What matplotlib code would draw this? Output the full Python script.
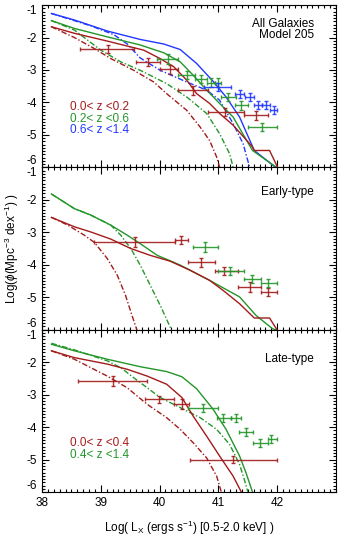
import matplotlib
matplotlib.use("Agg")
import matplotlib.pyplot as plt
from matplotlib.ticker import MultipleLocator
import numpy as np

plt.rcParams['font.family'] = ['Liberation Sans', 'DejaVu Sans']
plt.rcParams['axes.unicode_minus'] = False
plt.rcParams['mathtext.fontset'] = 'custom'
plt.rcParams['mathtext.rm'] = 'Liberation Sans'
plt.rcParams['mathtext.it'] = 'Liberation Sans:italic'

RED = '#A31B1B'
GREEN = '#23962A'
BLUE = '#2238FF'

# ---------------- Panel 1: All galaxies ----------------
p1_blue_solid_x = [38.16, 38.55, 39.11, 39.67, 40.07, 40.35, 40.63, 40.91, 41.13, 41.36, 41.61, 42.0]
p1_blue_solid_y = [-1.26, -1.46, -1.80, -2.06, -2.20, -2.37, -2.80, -3.35, -3.83, -4.45, -5.48, -6.04]
p1_blue_dd_x = [38.16, 38.83, 39.22, 39.45, 39.67, 40.01, 40.46, 40.80, 41.02, 41.25, 41.42, 41.53]
p1_blue_dd_y = [-1.26, -1.64, -1.91, -2.20, -2.63, -3.01, -3.37, -3.62, -3.93, -4.65, -5.27, -5.99]
p1_green_solid_x = [38.16, 38.55, 39.11, 39.67, 40.07, 40.35, 40.57, 40.80, 41.02, 41.25, 41.58, 41.98]
p1_green_solid_y = [-1.48, -1.72, -1.98, -2.23, -2.47, -2.75, -3.16, -3.62, -4.03, -4.45, -5.48, -5.99]
p1_green_dd_x = [38.16, 38.55, 39.00, 39.34, 39.67, 40.12, 40.46, 40.80, 41.02, 41.19, 41.25]
p1_green_dd_y = [-1.48, -1.77, -2.39, -2.75, -3.01, -3.42, -3.83, -4.34, -4.96, -5.58, -5.99]
p1_red_solid_x = [38.16, 38.55, 39.11, 39.73, 40.01, 40.24, 40.46, 40.63, 40.85, 41.02, 41.25, 41.58, 41.61, 41.87, 42.01]
p1_red_solid_y = [-1.67, -1.87, -2.11, -2.39, -2.65, -2.90, -3.31, -3.73, -4.03, -4.34, -4.70, -5.37, -5.48, -5.48, -6.01]
p1_red_dd_x = [38.16, 38.55, 38.89, 39.17, 39.56, 39.90, 40.12, 40.46, 40.69, 40.85, 40.97, 41.02]
p1_red_dd_y = [-1.67, -2.00, -2.34, -2.65, -3.01, -3.37, -3.73, -4.24, -4.76, -5.17, -5.68, -5.99]

p1_red_pts_x = [39.13, 39.81, 40.18, 40.56, 41.12, 41.64]
p1_red_pts_lo = [38.65, 39.60, 40.00, 40.32, 40.83, 41.43]
p1_red_pts_hi = [39.57, 40.01, 40.32, 40.83, 41.43, 41.84]
p1_red_pts_y = [-2.36, -2.75, -2.98, -3.62, -4.29, -4.40]
p1_red_pts_err = [0.13, 0.13, 0.13, 0.14, 0.13, 0.14]

p1_green_pts_x = [40.15, 40.47, 40.70, 40.87, 40.99, 41.17, 41.38, 41.74]
p1_green_pts_lo = [39.96, 40.32, 40.61, 40.80, 40.94, 41.05, 41.29, 41.50]
p1_green_pts_hi = [40.32, 40.61, 40.80, 40.94, 41.05, 41.30, 41.50, 41.99]
p1_green_pts_y = [-2.67, -3.16, -3.28, -3.39, -3.39, -3.83, -4.09, -4.76]
p1_green_pts_err = [0.15, 0.13, 0.13, 0.13, 0.13, 0.13, 0.13, 0.13]

p1_blue_pts_x = [40.99, 41.37, 41.53, 41.67, 41.81, 41.95]
p1_blue_pts_lo = [40.75, 41.29, 41.46, 41.60, 41.74, 41.88]
p1_blue_pts_hi = [41.22, 41.44, 41.60, 41.74, 41.88, 42.00]
p1_blue_pts_y = [-3.52, -3.73, -3.83, -4.09, -4.07, -4.24]
p1_blue_pts_err = [0.12, 0.12, 0.12, 0.12, 0.12, 0.12]

# ---------------- Panel 2: Early-type ----------------
p2_green_solid_x = [38.16, 38.55, 38.83, 39.17, 39.45, 39.67, 39.96, 40.35, 40.85, 41.36, 41.64, 41.92, 42.0]
p2_green_solid_y = [-1.82, -2.27, -2.47, -2.78, -3.09, -3.35, -3.71, -4.01, -4.48, -4.99, -5.56, -5.97, -6.02]
p2_green_dd_x = [38.16, 38.55, 38.83, 39.17, 39.34, 39.51, 39.67, 39.84, 40.01, 40.21]
p2_green_dd_y = [-1.82, -2.27, -2.47, -2.78, -3.09, -3.50, -4.01, -4.63, -5.25, -6.04]
p2_red_solid_x = [38.16, 38.55, 38.83, 39.17, 39.51, 39.84, 40.18, 40.52, 40.85, 41.08, 41.36, 41.61, 41.87, 42.01]
p2_red_solid_y = [-2.54, -2.83, -2.99, -3.21, -3.50, -3.71, -3.89, -4.17, -4.48, -4.79, -5.20, -5.64, -5.64, -6.04]
p2_red_dd_x = [38.16, 38.44, 38.72, 38.89, 39.11, 39.28, 39.42, 39.53, 39.62]
p2_red_dd_y = [-2.54, -2.78, -3.09, -3.31, -3.81, -4.32, -4.94, -5.56, -6.04]

p2_red_pts_x = [39.58, 40.37, 40.71, 41.10, 41.53, 41.85]
p2_red_pts_lo = [38.88, 40.26, 40.48, 40.94, 41.33, 41.72]
p2_red_pts_hi = [40.26, 40.49, 40.94, 41.33, 41.72, 41.99]
p2_red_pts_y = [-3.29, -3.24, -3.93, -4.20, -4.68, -4.84]
p2_red_pts_err = [0.15, 0.13, 0.15, 0.13, 0.15, 0.12]

p2_green_pts_x = [40.78, 41.20, 41.57, 41.84]
p2_green_pts_lo = [40.57, 40.99, 41.43, 41.72]
p2_green_pts_hi = [40.99, 41.44, 41.72, 41.99]
p2_green_pts_y = [-3.45, -4.19, -4.43, -4.56]
p2_green_pts_err = [0.15, 0.13, 0.13, 0.12]

# ---------------- Panel 3: Late-type ----------------
p3_green_solid_x = [38.16, 38.55, 39.11, 39.67, 40.12, 40.38, 40.63, 40.91, 41.13, 41.36, 41.47, 41.58]
p3_green_solid_y = [-1.45, -1.65, -1.91, -2.14, -2.29, -2.45, -2.82, -3.45, -4.07, -4.89, -5.41, -6.00]
p3_green_dd_x = [38.16, 38.55, 38.83, 39.11, 39.34, 39.56, 39.79, 40.01, 40.35, 40.69, 40.97, 41.19, 41.36, 41.44, 41.50]
p3_green_dd_y = [-1.42, -1.62, -1.79, -1.96, -2.17, -2.48, -2.79, -3.09, -3.40, -3.71, -4.07, -4.53, -5.15, -5.61, -5.99]
p3_red_solid_x = [38.16, 38.55, 39.11, 39.45, 39.79, 40.12, 40.38, 40.57, 40.80, 41.02, 41.25, 41.39]
p3_red_solid_y = [-1.65, -1.86, -2.06, -2.22, -2.43, -2.68, -3.09, -3.66, -4.28, -4.89, -5.51, -6.00]
p3_red_dd_x = [38.16, 38.55, 38.83, 39.11, 39.45, 39.79, 40.12, 40.35, 40.57, 40.80, 40.97, 41.05]
p3_red_dd_y = [-1.65, -1.91, -2.17, -2.43, -2.79, -3.30, -3.71, -4.07, -4.48, -4.95, -5.51, -6.00]

p3_red_pts_x = [39.20, 39.99, 40.38, 41.25]
p3_red_pts_lo = [38.62, 39.76, 40.24, 40.52]
p3_red_pts_hi = [39.79, 40.24, 40.50, 42.00]
p3_red_pts_y = [-2.58, -3.15, -3.30, -5.00]
p3_red_pts_err = [0.16, 0.12, 0.15, 0.12]

p3_green_pts_x = [40.74, 41.08, 41.30, 41.47, 41.70, 41.90]
p3_green_pts_lo = [40.49, 40.97, 41.22, 41.35, 41.58, 41.84]
p3_green_pts_hi = [41.00, 41.22, 41.39, 41.58, 41.84, 41.99]
p3_green_pts_y = [-3.40, -3.71, -3.71, -4.15, -4.48, -4.36]
p3_green_pts_err = [0.12, 0.12, 0.12, 0.12, 0.12, 0.12]

x_ticks = [38, 39, 40, 41, 42]
y_ticks = [-6, -5, -4, -3, -2, -1]

fig, axes = plt.subplots(3, 1, figsize=(3.5, 5.6), dpi=100, sharex=True)
fig.subplots_adjust(left=0.12, right=0.96, top=0.991, bottom=0.1214, hspace=0)

LW = 1.0
DD = (0, (4, 1.5, 1, 1.5))


def pts(ax, x, lo, hi, y, err, color):
    x = np.array(x); lo = np.array(lo); hi = np.array(hi)
    ax.errorbar(x, y, xerr=[x - lo, hi - x], yerr=err, fmt='none',
                ecolor=color, elinewidth=1.0, capsize=1.3, capthick=1.0, alpha=0.9)


ax = axes[0]
ax.plot(p1_blue_solid_x, p1_blue_solid_y, color=BLUE, lw=LW)
ax.plot(p1_blue_dd_x, p1_blue_dd_y, color=BLUE, lw=LW, ls=DD)
ax.plot(p1_green_solid_x, p1_green_solid_y, color=GREEN, lw=LW)
ax.plot(p1_green_dd_x, p1_green_dd_y, color=GREEN, lw=LW, ls=DD)
ax.plot(p1_red_solid_x, p1_red_solid_y, color=RED, lw=LW)
ax.plot(p1_red_dd_x, p1_red_dd_y, color=RED, lw=LW, ls=DD)
pts(ax, p1_red_pts_x, p1_red_pts_lo, p1_red_pts_hi, p1_red_pts_y, p1_red_pts_err, RED)
pts(ax, p1_green_pts_x, p1_green_pts_lo, p1_green_pts_hi, p1_green_pts_y, p1_green_pts_err, GREEN)
pts(ax, p1_blue_pts_x, p1_blue_pts_lo, p1_blue_pts_hi, p1_blue_pts_y, p1_blue_pts_err, BLUE)
ax.text(0.925, 0.883, 'All Galaxies', transform=ax.transAxes, ha='right', va='center', fontsize=8.5)
ax.text(0.925, 0.815, 'Model 205', transform=ax.transAxes, ha='right', va='center', fontsize=8.5)
ax.text(0.095, 0.372, '0.0< z <0.2', transform=ax.transAxes, color=RED, va='center', fontsize=8.5)
ax.text(0.095, 0.301, '0.2< z <0.6', transform=ax.transAxes, color=GREEN, va='center', fontsize=8.5)
ax.text(0.095, 0.228, '0.6< z <1.4', transform=ax.transAxes, color=BLUE, va='center', fontsize=8.5)

ax = axes[1]
ax.plot(p2_green_solid_x, p2_green_solid_y, color=GREEN, lw=LW)
ax.plot(p2_green_dd_x, p2_green_dd_y, color=GREEN, lw=LW, ls=DD)
ax.plot(p2_red_solid_x, p2_red_solid_y, color=RED, lw=LW)
ax.plot(p2_red_dd_x, p2_red_dd_y, color=RED, lw=LW, ls=DD)
pts(ax, p2_red_pts_x, p2_red_pts_lo, p2_red_pts_hi, p2_red_pts_y, p2_red_pts_err, RED)
pts(ax, p2_green_pts_x, p2_green_pts_lo, p2_green_pts_hi, p2_green_pts_y, p2_green_pts_err, GREEN)
ax.text(0.925, 0.847, 'Early-type', transform=ax.transAxes, ha='right', va='center', fontsize=8.5)

ax = axes[2]
ax.plot(p3_green_solid_x, p3_green_solid_y, color=GREEN, lw=LW)
ax.plot(p3_green_dd_x, p3_green_dd_y, color=GREEN, lw=LW, ls=DD)
ax.plot(p3_red_solid_x, p3_red_solid_y, color=RED, lw=LW)
ax.plot(p3_red_dd_x, p3_red_dd_y, color=RED, lw=LW, ls=DD)
pts(ax, p3_red_pts_x, p3_red_pts_lo, p3_red_pts_hi, p3_red_pts_y, p3_red_pts_err, RED)
pts(ax, p3_green_pts_x, p3_green_pts_lo, p3_green_pts_hi, p3_green_pts_y, p3_green_pts_err, GREEN)
ax.text(0.925, 0.82, 'Late-type', transform=ax.transAxes, ha='right', va='center', fontsize=8.5)
ax.text(0.095, 0.30, '0.0< z <0.4', transform=ax.transAxes, color=RED, va='center', fontsize=8.5)
ax.text(0.095, 0.23, '0.4< z <1.4', transform=ax.transAxes, color=GREEN, va='center', fontsize=8.5)

for ax in axes:
    ax.set_xlim(38, 43)
    ax.set_ylim(-6, -1)
    ax.set_xticks(x_ticks)
    ax.set_yticks(y_ticks)
    ax.xaxis.set_minor_locator(MultipleLocator(0.1))
    ax.yaxis.set_minor_locator(MultipleLocator(0.1))
    ax.tick_params(which='both', direction='in', top=True, right=True, labelsize=8.5, width=0.8)
    ax.tick_params(which='major', length=5)
    ax.tick_params(which='minor', length=2.5)
    for s in ax.spines.values():
        s.set_linewidth(0.8)
    ax.set_yticklabels([str(v) for v in y_ticks])
    labs = ax.get_yticklabels()
    labs[0].set_va('bottom')
    labs[-1].set_va('top')

axes[2].set_xticklabels([str(v) for v in x_ticks])

fig.text(0.035, (0.991 + 0.1214) / 2, r'Log($\phi$(Mpc$^{-3}$ dex$^{-1}$) )', rotation=90,
         ha='center', va='center', fontsize=8.5)
fig.text(0.54, 0.058, r'Log( L$_\mathrm{X}$ (ergs s$^{-1}$) [0.5-2.0 keV] )', ha='center', va='center', fontsize=8.5)

fig.savefig('out.png', dpi=100)
